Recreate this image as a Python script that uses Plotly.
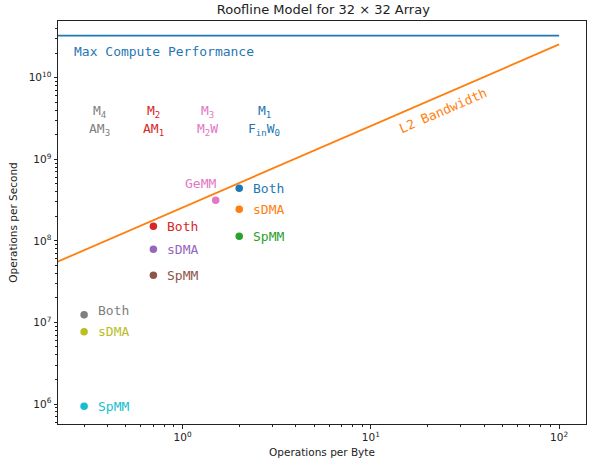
import plotly.graph_objects as go
import numpy as np

# ---- data ----
max_compute = 3.2768e10          # ops/s
l2_bandwidth = 2.56e8            # bytes/s
roof_x = [0.1, 100]

point_x = [2.0, 2.0, 2.0, 1.5, 0.7, 0.7, 0.7, 0.3, 0.3, 0.3]
point_y = [4.4e8, 2.44e8, 1.14e8, 3.15e8, 1.51e8, 7.9e7, 3.79e7, 1.24e7, 7.7e6, 9.4e5]
point_labels = ["Both", "sDMA", "SpMM", "GeMM", "Both", "sDMA", "SpMM", "Both", "sDMA", "SpMM"]
point_colors = ["#1f77b4", "#ff7f0e", "#2ca02c", "#e377c2", "#d62728",
                "#9467bd", "#8c564b", "#7f7f7f", "#bcbd22", "#17becf"]

header_top = ["M<sub>4</sub>", "M<sub>2</sub>", "M<sub>3</sub>", "M<sub>1</sub>"]
header_bottom = ["AM<sub>3</sub>", "AM<sub>1</sub>", "M<sub>2</sub>W", "F<sub>in</sub>W<sub>0</sub>"]
header_colors = ["#7f7f7f", "#d62728", "#e377c2", "#1f77b4"]

x_tick_vals = [1, 10, 100]
x_tick_text = ["10<sup>0</sup>", "10<sup>1</sup>", "10<sup>2</sup>"]
y_tick_vals = [1e6, 1e7, 1e8, 1e9, 1e10]
y_tick_text = ["10<sup>6</sup>", "10<sup>7</sup>", "10<sup>8</sup>", "10<sup>9</sup>", "10<sup>10</sup>"]

# ---- layout helpers (positions) ----
header_x = [0.364, 0.70, 1.36, 2.71]
header_y_top = 3.9e9
header_y_bottom = 2.29e9

MONO = "DejaVu Sans Mono"
SANS = "DejaVu Sans"

fig = go.Figure()

# roofs
fig.add_trace(go.Scatter(x=[0.1, 100], y=[max_compute, max_compute], mode="lines",
                         line=dict(color="#1f77b4", width=1.6), showlegend=False, hoverinfo="skip"))
fig.add_trace(go.Scatter(x=roof_x, y=[l2_bandwidth * v for v in roof_x], mode="lines",
                         line=dict(color="#ff7f0e", width=1.8), showlegend=False, hoverinfo="skip"))

# points
fig.add_trace(go.Scatter(x=point_x, y=point_y, mode="markers",
                         marker=dict(color=point_colors, size=7.5, line=dict(width=0)),
                         showlegend=False))

annotations = []
for x, y, t, c in zip(point_x, point_y, point_labels, point_colors):
    if t == "GeMM":
        annotations.append(dict(x=np.log10(x), y=np.log10(y), text=t, showarrow=False,
                                xanchor="center", yanchor="middle", xshift=-15, yshift=17,
                                font=dict(family=MONO, size=13, color=c)))
    else:
        ys = 4 if (t == "Both" and x == 0.3) else 0
        annotations.append(dict(x=np.log10(x), y=np.log10(y), text=t, showarrow=False,
                                xanchor="left", yanchor="middle", xshift=12, yshift=ys,
                                font=dict(family=MONO, size=13, color=c)))

for hx, t1, t2, c in zip(header_x, header_top, header_bottom, header_colors):
    annotations.append(dict(x=np.log10(hx), y=np.log10(header_y_top), text=t1, showarrow=False,
                            xanchor="center", yanchor="middle",
                            font=dict(family=MONO, size=13, color=c)))
    annotations.append(dict(x=np.log10(hx), y=np.log10(header_y_bottom), text=t2, showarrow=False,
                            xanchor="center", yanchor="middle",
                            font=dict(family=MONO, size=13, color=c)))

annotations.append(dict(x=np.log10(0.259), y=np.log10(2.12e10), text="Max Compute Performance",
                        showarrow=False, xanchor="left", yanchor="middle",
                        font=dict(family=MONO, size=13, color="#1f77b4")))
annotations.append(dict(x=np.log10(24.3), y=np.log10(4.0e9), text="L2 Bandwidth",
                        showarrow=False, xanchor="center", yanchor="middle", textangle=-23.4,
                        font=dict(family=MONO, size=13, color="#ff7f0e")))

x_minor = [m * 10.0 ** e for e in range(-1, 3) for m in range(2, 10)]
y_minor = [m * 10.0 ** e for e in range(5, 11) for m in range(2, 10)]

fig.update_layout(
    width=590, height=463,
    margin=dict(l=58, r=4, t=21, b=39, autoexpand=False),
    paper_bgcolor="white", plot_bgcolor="white",
    title=dict(text="Roofline Model for 32 × 32 Array", x=0.548, xanchor="center",
               yref="container", y=1 - 9.5 / 463, yanchor="middle", automargin=False,
               font=dict(family=SANS, size=13, color="#222")),
    annotations=annotations,
    font=dict(family=SANS, size=10, color="#222"),
)
fig.update_xaxes(type="log", range=[np.log10(0.218), np.log10(139)], automargin=False,
                 tickvals=x_tick_vals, ticktext=x_tick_text,
                 ticks="outside", ticklen=3.5, tickcolor="#222", showgrid=False, zeroline=False,
                 showline=True, linecolor="#222", linewidth=1, mirror=True,
                 minor=dict(tickvals=x_minor, ticks="outside", ticklen=2, tickcolor="#222", showgrid=False),
                 title=dict(text="Operations per Byte", font=dict(family=SANS, size=10.5), standoff=6),
                 tickfont=dict(family=SANS, size=10.5))
fig.update_yaxes(type="log", range=[5.755, 10.695], automargin=False,
                 tickvals=y_tick_vals, ticktext=y_tick_text,
                 ticks="outside", ticklen=3.5, tickcolor="#222", showgrid=False, zeroline=False,
                 showline=True, linecolor="#222", linewidth=1, mirror=True,
                 minor=dict(tickvals=y_minor, ticks="outside", ticklen=2, tickcolor="#222", showgrid=False),
                 title=dict(text="Operations per Second", font=dict(family=SANS, size=10.5), standoff=8),
                 tickfont=dict(family=SANS, size=10.5))

fig.write_html("out.html", config={"displayModeBar": False},
               post_script="document.body.style.margin='0';document.body.style.padding='0';")
